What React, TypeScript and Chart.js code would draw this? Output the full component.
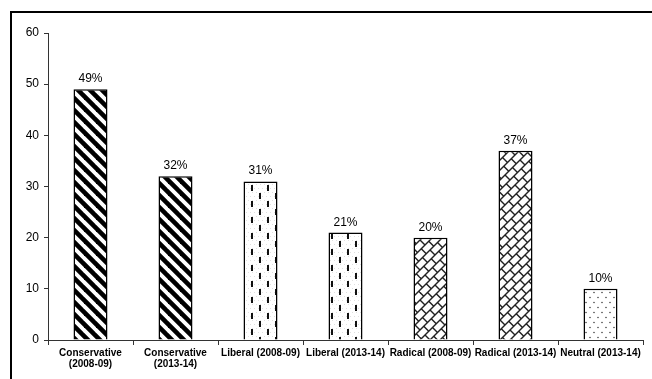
import React, { useEffect, useRef } from "react";
import { Chart, registerables } from "chart.js";

Chart.register(...registerables);

const categories: (string | string[])[] = [
  ["Conservative", "(2008-09)"],
  ["Conservative", "(2013-14)"],
  "Liberal (2008-09)",
  "Liberal (2013-14)",
  "Radical (2008-09)",
  "Radical (2013-14)",
  "Neutral (2013-14)",
];
const values: number[] = [49, 32, 31, 21, 20, 37, 10];
const patternKinds: string[] = ["stripes", "stripes", "dashes", "dashes", "brick", "brick", "dots"];
const yTicks = { min: 0, max: 60, step: 10 };

function makeTile(w: number, h: number, draw: (c: CanvasRenderingContext2D) => void) {
  const cv = document.createElement("canvas");
  cv.width = w;
  cv.height = h;
  const c = cv.getContext("2d")!;
  c.fillStyle = "#fff";
  c.fillRect(0, 0, w, h);
  draw(c);
  return c.createPattern(cv, "repeat") as CanvasPattern;
}

function makePatterns() {
  const stripes = makeTile(12, 12, (c) => {
    const P = 12;
    c.strokeStyle = "#000";
    c.lineWidth = 4.6;
    for (let o = -2 * P; o <= 2 * P; o += P) {
      c.beginPath();
      c.moveTo(o - P, -P);
      c.lineTo(o + 2 * P, 2 * P);
      c.stroke();
    }
  });
  const dashes = makeTile(16, 16, (c) => {
    c.fillStyle = "rgba(0,0,0,0.12)";
    for (let x = 0; x < 16; x += 4) {
      for (let y = 0; y < 16; y += 4) {
        c.fillRect(x + ((y / 4) % 2) * 2, y, 1, 1);
      }
    }
    c.fillStyle = "#111";
    c.fillRect(3, 1, 2, 6);
    c.fillRect(11, 9, 2, 6);
  });
  const T = 60;
  const brick = makeTile(T, T, (c) => {
    const S = 10;
    const L = 15;
    c.strokeStyle = "#222";
    c.lineWidth = 1.4;
    for (let k = -4; k <= 2 * T / S + 4; k++) {
      const a = k * S;
      c.beginPath();
      c.moveTo(a + 200, -200);
      c.lineTo(a - 200, 200);
      c.stroke();
      const off = ((k % 2) + 2) % 2 === 1 ? L / 2 : 0;
      for (let m = -12; m <= 12; m++) {
        const d = m * L + off;
        c.beginPath();
        c.moveTo((a + d) / 2, (a - d) / 2);
        c.lineTo((a + S + d) / 2, (a + S - d) / 2);
        c.stroke();
      }
    }
  });
  const dots = makeTile(8, 10, (c) => {
    c.fillStyle = "#444";
    c.beginPath();
    c.arc(2, 2.5, 0.8, 0, Math.PI * 2);
    c.fill();
    c.beginPath();
    c.arc(6, 7.5, 0.8, 0, Math.PI * 2);
    c.fill();
  });
  return { stripes, dashes, brick, dots } as Record<string, CanvasPattern>;
}

const FONT = "'Liberation Sans', Arial, sans-serif";

export default function App() {
  const ref = useRef<HTMLCanvasElement>(null);
  useEffect(() => {
    if (!ref.current) return;
    const pats = makePatterns();
    const framePlugin = {
      id: "frame",
      beforeDraw(chart: any) {
        const ctx = chart.ctx;
        ctx.save();
        ctx.fillStyle = "#fff";
        ctx.fillRect(0, 0, chart.width, chart.height);
        ctx.strokeStyle = "#000";
        ctx.lineWidth = 2;
        ctx.strokeRect(11, 12, 1000, 1000);
        ctx.restore();
      },
    };
    const labelPlugin = {
      id: "valLabels",
      afterDatasetsDraw(chart: any) {
        const ctx = chart.ctx;
        const meta = chart.getDatasetMeta(0);
        ctx.save();
        ctx.fillStyle = "#000";
        ctx.font = `12px ${FONT}`;
        ctx.textAlign = "center";
        ctx.textBaseline = "alphabetic";
        meta.data.forEach((bar: any, i: number) => {
          ctx.fillText(`${values[i]}%`, bar.x, bar.y - 7);
        });
        ctx.restore();
      },
    };
    const chart = new Chart(ref.current, {
      type: "bar",
      data: {
        labels: categories,
        datasets: [
          {
            data: values,
            backgroundColor: patternKinds.map((k) => pats[k]),
            borderColor: "#000",
            borderWidth: 1.5,
            barPercentage: 0.4,
            categoryPercentage: 1,
          },
        ],
      },
      options: {
        responsive: false,
        animation: false,
        layout: { padding: { left: 0, right: 9, top: 33, bottom: 0 } },
        plugins: { legend: { display: false }, tooltip: { enabled: false } },
        scales: {
          x: {
            offset: true,
            grid: { display: true, drawOnChartArea: false, drawTicks: true, tickLength: 5, color: "#333", offset: true },
            border: { display: true, color: "#333", width: 1 },
            ticks: {
              color: "#000",
              font: { family: FONT, size: 10, weight: "bold", lineHeight: 1.1 },
              padding: 3,
              maxRotation: 0,
              autoSkip: false,
            },
            afterFit(s: any) {
              s.height = 39;
            },
          },
          y: {
            min: yTicks.min,
            max: yTicks.max,
            grid: { display: true, drawOnChartArea: false, drawTicks: true, tickLength: 4, color: "#333" },
            border: { display: true, color: "#333", width: 1 },
            ticks: {
              stepSize: yTicks.step,
              color: "#000",
              font: { family: FONT, size: 12 },
              padding: 5,
            },
            afterFit(s: any) {
              s.width = 48;
            },
          },
        },
      },
      plugins: [framePlugin, labelPlugin],
    } as any);
    return () => chart.destroy();
  }, []);
  return (
    <div style={{ position: "absolute", left: 0, top: 0, width: 652, height: 379 }}>
      <canvas ref={ref} width={652} height={379} style={{ display: "block" }} />
    </div>
  );
}
